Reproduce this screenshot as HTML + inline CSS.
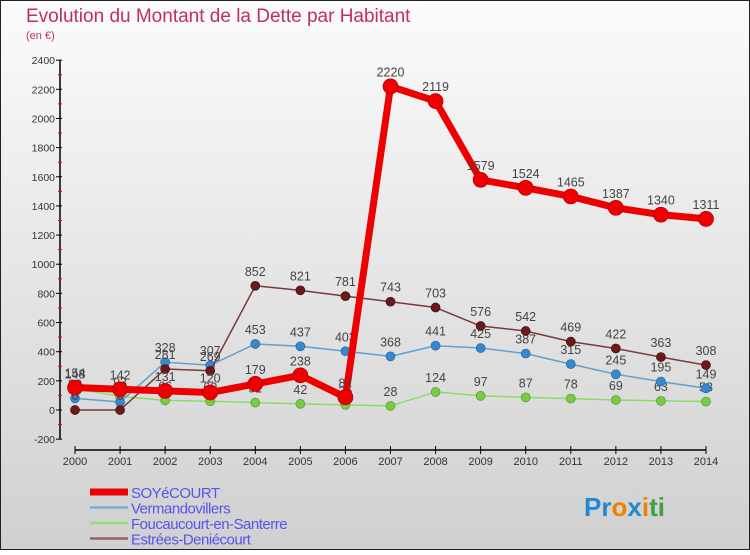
<!DOCTYPE html>
<html><head><meta charset="utf-8"><style>
html,body{margin:0;padding:0;}
body{width:750px;height:550px;overflow:hidden;font-family:"Liberation Sans",sans-serif;}
</style></head><body>
<svg id="chart" width="750" height="550" viewBox="0 0 750 550" xmlns="http://www.w3.org/2000/svg">
<defs><linearGradient id="bg" x1="0" y1="0" x2="0" y2="1"><stop offset="0" stop-color="#fbfbfb"/><stop offset="1" stop-color="#d0d0d0"/></linearGradient></defs>
<rect x="0.5" y="0.5" width="749" height="549" fill="url(#bg)" stroke="#222"/>
<text x="26" y="22" font-size="19" fill="#c0305a" style="font-weight:300">Evolution du Montant de la Dette par Habitant</text>
<text x="26" y="39" font-size="11" fill="#c0305a">(en €)</text>
<g id="plot"></g>
<g id="legend"></g>
<g font-size="26" font-weight="bold">
<text x="584" y="516"><tspan fill="#1e88d0">Pr</tspan><tspan fill="#f08000">o</tspan><tspan fill="#1e88d0">x</tspan><tspan fill="#f08000">i</tspan><tspan fill="#40a040">ti</tspan></text>
</g>
</svg>
<script>
const years=[2000,2001,2002,2003,2004,2005,2006,2007,2008,2009,2010,2011,2012,2013,2014];
const yTicks=[-200,0,200,400,600,800,1000,1200,1400,1600,1800,2000,2200,2400];
const soyecourt=[154,142,131,120,179,238,87,2220,2119,1579,1524,1465,1387,1340,1311];
const vermandovillers=[80,55,328,307,453,437,403,368,441,425,387,315,245,195,149];
const foucaucourt=[148,93,66,60,51,42,35,28,124,97,87,78,69,63,58];
const estrees=[0,0,281,269,852,821,781,743,703,576,542,469,422,363,308];
const seriesNames=["SOYéCOURT","Vermandovillers","Foucaucourt-en-Santerre","Estrées-Deniécourt"];

const NS="http://www.w3.org/2000/svg";
const X0=75,X1=706,Y0=410,PX=(439-60)/2600;
const xs=i=>X0+(X1-X0)*i/(years.length-1);
const ys=v=>Y0-v*PX;
const plot=document.getElementById('plot');
function mk(tag,attrs,parent){const e=document.createElementNS(NS,tag);for(const k in attrs)e.setAttribute(k,attrs[k]);(parent||plot).appendChild(e);return e;}

let ax=mk('line',{x1:60,y1:ys(2400),x2:60,y2:ys(-200),stroke:'#000','stroke-width':1.5});


yTicks.forEach(t=>{
  mk('line',{x1:56,y1:ys(t),x2:62,y2:ys(t),stroke:'#000'});
  if(t<2400) mk('line',{x1:58,y1:ys(t+100),x2:62,y2:ys(t+100),stroke:'#e00'});
  const tx=mk('text',{x:55,y:ys(t)+4,'text-anchor':'end','font-size':10.5,fill:'#333'});
  tx.textContent=t;
  
  
});
let xa=mk('line',{x1:X0,y1:450,x2:X1,y2:450,stroke:'#000','stroke-width':1.5});


years.forEach((y,i)=>{
  mk('line',{x1:xs(i),y1:446,x2:xs(i),y2:454,stroke:'#000'});
  const tx=mk('text',{x:xs(i),y:465,'text-anchor':'middle','font-size':11,fill:'#333'});
  tx.textContent=y;
  
  
});

function series(data,color,dot,w,r,name,strokeDot){
  const g=mk('g',{});
  
  
  mk('polyline',{points:data.map((v,i)=>xs(i)+','+ys(v)).join(' '),fill:'none',stroke:color,'stroke-width':w,'stroke-linejoin':'round'},g);
  data.forEach((v,i)=>{
    const c=mk('circle',{cx:xs(i),cy:ys(v),r:r,fill:dot,stroke:strokeDot,'stroke-width':0.7},g);
    
    
    const t=mk('text',{x:xs(i),y:ys(v)-10,'text-anchor':'middle','font-size':12.5,fill:'#444'},g);
    t.textContent=v;
    
    
  });
}
series(foucaucourt,'#88dd66','#77cc44',1.5,4.5,'series-foucaucourt','#559933');
series(vermandovillers,'#5fa0d0','#3a88cc',1.5,4.5,'series-vermandovillers','#2266aa');
series(estrees,'#7a3a3a','#6a1a1a',1.5,4.5,'series-estrees','#441010');
series(soyecourt,'#ee0000','#ee0000',7,7.5,'series-soyecourt','#aa0000');

const leg=document.getElementById('legend');
const legColors=['#ee0000','#80aed0','#99dd77','#9a6060'];
const legW=[7,2.5,2.5,2.5];
seriesNames.forEach((n,i)=>{
  const y=492+i*15.5;
  const g=mk('g',{},leg);
  
  
  mk('line',{x1:90,y1:y,x2:128,y2:y,stroke:legColors[i],'stroke-width':legW[i]},g);
  const t=mk('text',{x:131,y:y+6,'font-size':15,fill:'#5555ee','letter-spacing':'-0.5'},g);
  t.textContent=n;
});
</script>
</body></html>
